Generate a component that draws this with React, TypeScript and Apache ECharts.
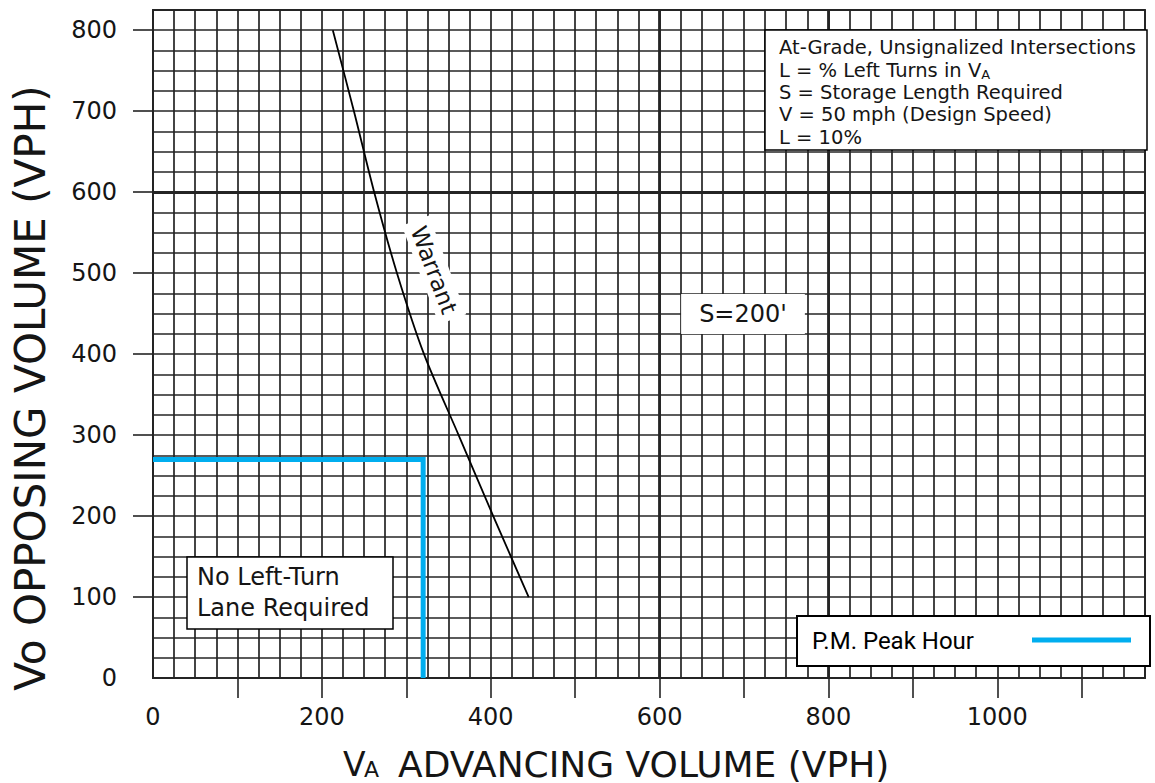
import React, { useEffect, useRef } from 'react';
import * as echarts from 'echarts';

// ---- data ----
const xTickValues = [100, 200, 300, 400, 500, 600, 700, 800, 900, 1000, 1100];
const xLabelValues = [0, 200, 400, 600, 800, 1000];
const yTickValues = [100, 200, 300, 400, 500, 600, 700, 800];
const yLabelValues = [0, 100, 200, 300, 400, 500, 600, 700, 800];

const warrantX = [213, 238, 262, 289, 321, 362, 403, 445];
const warrantY = [800, 700, 600, 500, 400, 300, 200, 100];

const peakX = [0, 320, 320];
const peakY = [270, 270, 0];

const heavyX = [600, 800];
const heavyY = [600];

const infoLines = [
  'At-Grade, Unsignalized Intersections',
  'L = % Left Turns in V',
  'S = Storage Length Required',
  'V = 50 mph (Design Speed)',
  'L = 10%',
];

const FONT = '"DejaVu Sans", "Liberation Sans", sans-serif';
const GRID = '#242424';
const TXT = '#151515';
const BLUE = '#00AEEF';

export default function App() {
  const ref = useRef<HTMLDivElement>(null);

  useEffect(() => {
    const chart = echarts.init(ref.current as HTMLDivElement, null, { renderer: 'svg' });

    const infoElems: any[] = infoLines.map((t, i) => {
      const y = 47 + i * 22.5;
      if (i === 1) {
        return {
          type: 'text', x: 779, y, z: 11,
          style: {
            text: '{n|' + t + '}{s|A}',
            align: 'left', verticalAlign: 'middle',
            rich: {
              n: { fontSize: 19.5, fontFamily: FONT, fill: TXT, verticalAlign: 'bottom', lineHeight: 22 },
              s: { fontSize: 13, fontFamily: FONT, fill: TXT, verticalAlign: 'bottom', lineHeight: 20 },
            },
          },
        };
      }
      return {
        type: 'text', x: 779, y, z: 11,
        style: { text: t, fontSize: 19.5, fontFamily: FONT, fill: TXT, align: 'left', verticalAlign: 'middle' },
      };
    });

    const fmt = (v: number) => String(v);

    const option: any = {
      animation: false,
      backgroundColor: '#fff',
      grid: {
        left: 153, top: 10, right: 10, bottom: 105,
        show: true, borderColor: GRID, borderWidth: 1.8,
      },
      xAxis: [
        {
          type: 'value', min: 0, max: 1175, interval: 25, position: 'bottom',
          axisLine: { show: true, onZero: false, lineStyle: { color: GRID, width: 1.8 } },
          axisTick: { show: false },
          axisLabel: { show: false },
          splitLine: { show: true, lineStyle: { color: GRID, width: 1.7 } },
        },
        {
          type: 'value', min: 0, max: 1175, position: 'bottom', gridIndex: 0,
          axisLine: { show: false, onZero: false },
          axisTick: { show: true, customValues: xTickValues, length: 20, lineStyle: { color: GRID, width: 1.6 } },
          axisLabel: { customValues: xLabelValues, formatter: fmt, margin: 27, fontFamily: FONT, fontSize: 24, color: TXT },
          splitLine: { show: false },
        },
      ],
      yAxis: [
        {
          type: 'value', min: 0, max: 825, interval: 25, position: 'left',
          axisLine: { show: true, onZero: false, lineStyle: { color: GRID, width: 1.8 } },
          axisTick: { show: false },
          axisLabel: { show: false },
          splitLine: { show: true, lineStyle: { color: GRID, width: 1.7 } },
        },
        {
          type: 'value', min: 0, max: 825, position: 'left', gridIndex: 0,
          axisLine: { show: false, onZero: false },
          axisTick: { show: true, customValues: yTickValues, length: 20, lineStyle: { color: GRID, width: 1.6 } },
          axisLabel: { customValues: yLabelValues, formatter: fmt, margin: 36, fontFamily: FONT, fontSize: 24, color: TXT },
          splitLine: { show: false },
        },
      ],
      series: [
        {
          name: 'Warrant',
          type: 'line',
          xAxisIndex: 0, yAxisIndex: 0,
          data: warrantX.map((x, i) => [x, warrantY[i]]),
          symbol: 'none',
          smooth: 0.3,
          z: 5,
          lineStyle: { color: '#000', width: 1.8 },
          markLine: {
            silent: true,
            symbol: ['none', 'none'],
            label: { show: false },
            lineStyle: { color: GRID, width: 2.8, type: 'solid' },
            data: [
              ...heavyX.map((v) => ({ xAxis: v })),
              ...heavyY.map((v) => ({ yAxis: v })),
            ],
          },
        },
        {
          name: 'P.M. Peak Hour',
          type: 'line',
          xAxisIndex: 0, yAxisIndex: 0,
          data: peakX.map((x, i) => [x, peakY[i]]),
          symbol: 'none',
          z: 6,
          lineStyle: { color: BLUE, width: 5, join: 'miter', cap: 'butt' },
        },
      ],
      graphic: {
        elements: [
          // info box
          { type: 'rect', z: 10, shape: { x: 765, y: 30, width: 382, height: 120 },
            style: { fill: '#fff', stroke: '#000', lineWidth: 1.5 } },
          ...infoElems,
          // No left turn box
          { type: 'rect', z: 10, shape: { x: 187, y: 557, width: 206, height: 72 },
            style: { fill: '#fff', stroke: '#000', lineWidth: 1.5 } },
          { type: 'text', z: 11, x: 197, y: 577,
            style: { text: 'No Left-Turn', fontSize: 24, fontFamily: FONT, fill: TXT, align: 'left', verticalAlign: 'middle' } },
          { type: 'text', z: 11, x: 197, y: 608,
            style: { text: 'Lane Required', fontSize: 24, fontFamily: FONT, fill: TXT, align: 'left', verticalAlign: 'middle' } },
          // P.M. legend
          { type: 'rect', z: 10, shape: { x: 797, y: 616, width: 353, height: 50 },
            style: { fill: '#fff', stroke: '#000', lineWidth: 2 } },
          { type: 'text', z: 11, x: 812, y: 641,
            style: { text: 'P.M. Peak Hour', fontSize: 24, fontFamily: 'Roboto, "Noto Sans", sans-serif', fill: '#000', align: 'left', verticalAlign: 'middle' } },
          { type: 'line', z: 11, shape: { x1: 1032, y1: 640, x2: 1131, y2: 640 },
            style: { stroke: BLUE, lineWidth: 5 } },
          // S=200'
          { type: 'text', z: 3, x: 743, y: 314,
            style: { text: "S=200'", fontSize: 24, fontFamily: FONT, fill: TXT, align: 'center', verticalAlign: 'middle',
              backgroundColor: '#fff', padding: [8, 18] } },
          // Warrant label
          { type: 'text', z: 3, x: 434, y: 270, rotation: -1.21,
            style: { text: 'Warrant', fontSize: 23, fontFamily: FONT, fill: TXT, align: 'center', verticalAlign: 'middle',
              backgroundColor: '#fff', padding: [3, 7] } },
          // axis titles
          { type: 'text', z: 11, x: 30, y: 388, rotation: Math.PI / 2,
            style: { text: 'Vo OPPOSING VOLUME (VPH)', fontSize: 42, fontFamily: FONT, fill: TXT, align: 'center', verticalAlign: 'middle' } },
          { type: 'text', z: 11, x: 343, y: 764,
            style: { text: 'V', fontSize: 33, fontFamily: FONT, fill: TXT, align: 'left', verticalAlign: 'middle' } },
          { type: 'text', z: 11, x: 364, y: 769,
            style: { text: 'A', fontSize: 22, fontFamily: FONT, fill: TXT, align: 'left', verticalAlign: 'middle' } },
          { type: 'text', z: 11, x: 398, y: 764,
            style: { text: 'ADVANCING VOLUME (VPH)', fontSize: 36, fontFamily: FONT, fill: TXT, align: 'left', verticalAlign: 'middle' } },
        ],
      },
    };

    chart.setOption(option);
    return () => chart.dispose();
  }, []);

  return (
    <div
      ref={ref}
      style={{ position: 'fixed', left: 0, top: 0, width: 1155, height: 783, background: '#fff' }}
    />
  );
}
